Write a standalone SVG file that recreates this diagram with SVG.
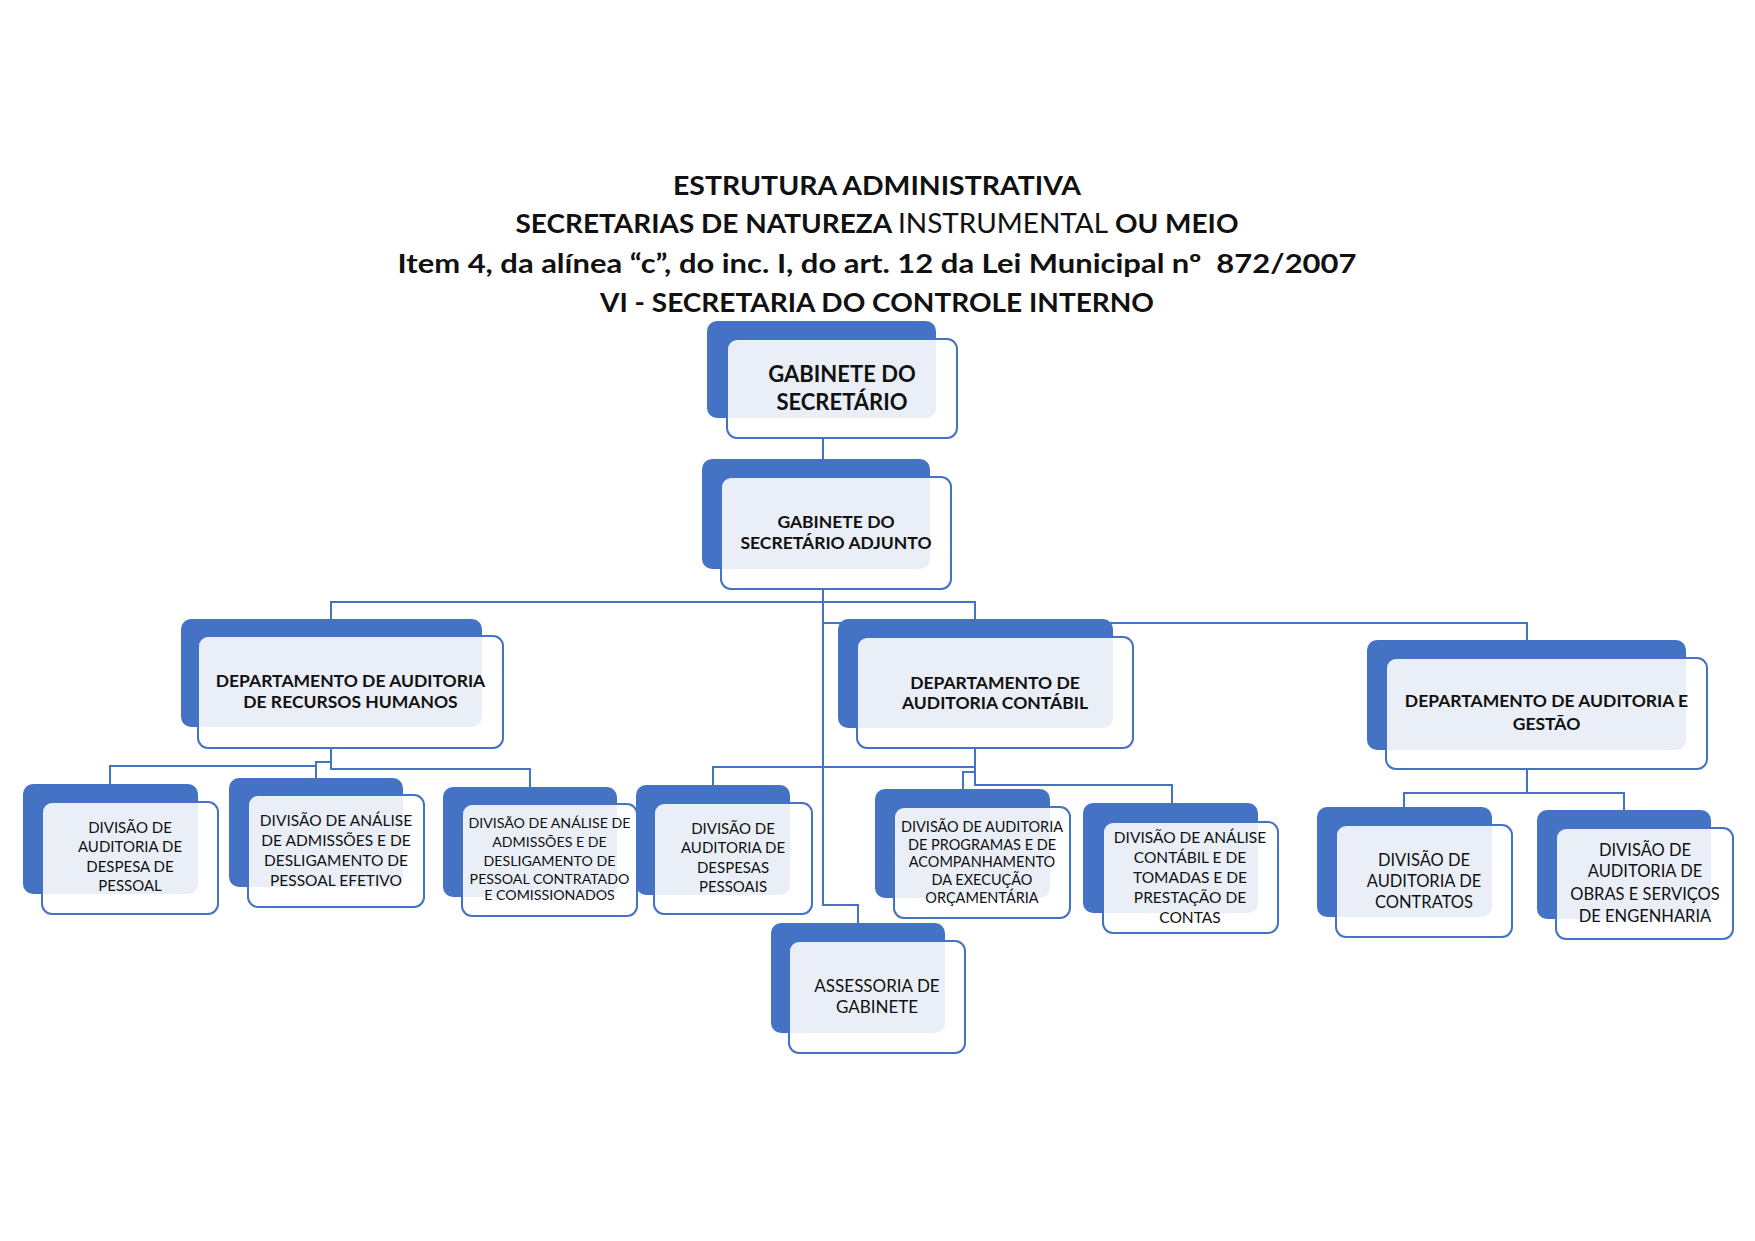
<svg xmlns="http://www.w3.org/2000/svg" width="1755" height="1241" viewBox="0 0 1755 1241">
<style>
text{font-family:Lato,"Open Sans","Liberation Sans",sans-serif;fill:#111;text-anchor:middle}
.t{font-size:26px;font-weight:bold}
.n{font-weight:normal}
.b{fill:#4472C4}
.fw{fill:#fff}
.l{fill:#EAEFF7}
.fs{fill:none;stroke:#4472C4;stroke-width:2}
.c{fill:none;stroke:#4472C4;stroke-width:2}
.bold{font-weight:bold}
.d{font-weight:bold;font-size:17.5px}
</style>
<rect width="1755" height="1241" fill="#fff"/>
<g id="title">
<text class="t" x="877" y="195" textLength="408" lengthAdjust="spacingAndGlyphs">ESTRUTURA ADMINISTRATIVA</text>
<text class="t" x="877" y="233" textLength="723" lengthAdjust="spacingAndGlyphs">SECRETARIAS DE NATUREZA <tspan class="n">INSTRUMENTAL</tspan> OU MEIO</text>
<text class="t" x="877" y="273" textLength="959" lengthAdjust="spacingAndGlyphs">Item 4, da alínea “c”, do inc. I, do art. 12 da Lei Municipal nº &#160;872/2007</text>
<text class="t" x="877" y="312" textLength="554" lengthAdjust="spacingAndGlyphs">VI - SECRETARIA DO CONTROLE INTERNO</text>
</g>
<g id="connectors">
<path class="c" d="M823,438 V477"/>
<path class="c" d="M823,589 V905 H858 V923"/>
<path class="c" d="M823,602 H331 V619"/>
<path class="c" d="M823,602 H975 V619"/>
<path class="c" d="M823,623 H1527 V640"/>
<path class="c" d="M331,748 V769 H530 V787"/>
<path class="c" d="M331,762 H316 V778"/>
<path class="c" d="M316,766 H110 V784"/>
<path class="c" d="M975,748 V785 H1172 V803"/>
<path class="c" d="M975,772 H963 V789"/>
<path class="c" d="M975,767 H713 V785"/>
<path class="c" d="M1527,769 V793 H1404 V807"/>
<path class="c" d="M1527,793 H1624 V810"/>
</g>
<g id="n1">
<rect class="b" x="707" y="321" width="229" height="97" rx="10"/>
<rect class="fw" x="727" y="339" width="230" height="99" rx="10"/>
<path class="l" d="M737,339 H936 V408 A10,10 0 0 1 926,418 H727 V349 A10,10 0 0 1 737,339 Z"/>
<rect class="fs" x="727" y="339" width="230" height="99" rx="10"/>
<text class="bold" font-size="22" x="842" y="382">GABINETE DO</text>
<text class="bold" font-size="22" x="842" y="410">SECRETÁRIO</text>
</g>
<g id="n2">
<rect class="b" x="702" y="459" width="228" height="110" rx="10"/>
<rect class="fw" x="721" y="477" width="230" height="112" rx="10"/>
<path class="l" d="M731,477 H930 V559 A10,10 0 0 1 920,569 H721 V487 A10,10 0 0 1 731,477 Z"/>
<rect class="fs" x="721" y="477" width="230" height="112" rx="10"/>
<text class="bold" font-size="17.5" x="836" y="528">GABINETE DO</text>
<text class="bold" font-size="17.5" x="836" y="549">SECRETÁRIO ADJUNTO</text>
</g>
<g id="n3">
<rect class="b" x="181" y="619" width="301" height="108" rx="10"/>
<rect class="fw" x="198" y="636" width="305" height="112" rx="10"/>
<path class="l" d="M208,636 H482 V717 A10,10 0 0 1 472,727 H198 V646 A10,10 0 0 1 208,636 Z"/>
<rect class="fs" x="198" y="636" width="305" height="112" rx="10"/>
<text class="d" x="350.5" y="687">DEPARTAMENTO DE AUDITORIA</text>
<text class="d" x="350.5" y="708">DE RECURSOS HUMANOS</text>
</g>
<g id="n4">
<rect class="b" x="838" y="619" width="275" height="109" rx="10"/>
<rect class="fw" x="857" y="637" width="276" height="111" rx="10"/>
<path class="l" d="M867,637 H1113 V718 A10,10 0 0 1 1103,728 H857 V647 A10,10 0 0 1 867,637 Z"/>
<rect class="fs" x="857" y="637" width="276" height="111" rx="10"/>
<text class="d" x="995" y="689">DEPARTAMENTO DE</text>
<text class="d" x="995" y="709">AUDITORIA CONTÁBIL</text>
</g>
<g id="n5">
<rect class="b" x="1367" y="640" width="319" height="110" rx="10"/>
<rect class="fw" x="1386" y="658" width="321" height="111" rx="10"/>
<path class="l" d="M1396,658 H1686 V740 A10,10 0 0 1 1676,750 H1386 V668 A10,10 0 0 1 1396,658 Z"/>
<rect class="fs" x="1386" y="658" width="321" height="111" rx="10"/>
<text class="d" x="1546.5" y="707">DEPARTAMENTO DE AUDITORIA E</text>
<text class="d" x="1546.5" y="730">GESTÃO</text>
</g>
<g id="n6">
<rect class="b" x="23" y="784" width="175" height="110" rx="10"/>
<rect class="fw" x="42" y="802" width="176" height="112" rx="10"/>
<path class="l" d="M52,802 H198 V884 A10,10 0 0 1 188,894 H42 V812 A10,10 0 0 1 52,802 Z"/>
<rect class="fs" x="42" y="802" width="176" height="112" rx="10"/>
<text font-size="15" x="130" y="833">DIVISÃO DE</text>
<text font-size="15" x="130" y="852">AUDITORIA DE</text>
<text font-size="15" x="130" y="872">DESPESA DE</text>
<text font-size="15" x="130" y="891">PESSOAL</text>
</g>
<g id="n7">
<rect class="b" x="229" y="778" width="174" height="109" rx="10"/>
<rect class="fw" x="248" y="795" width="176" height="112" rx="10"/>
<path class="l" d="M258,795 H403 V877 A10,10 0 0 1 393,887 H248 V805 A10,10 0 0 1 258,795 Z"/>
<rect class="fs" x="248" y="795" width="176" height="112" rx="10"/>
<text font-size="15.5" x="336" y="826">DIVISÃO DE ANÁLISE</text>
<text font-size="15.5" x="336" y="846">DE ADMISSÕES E DE</text>
<text font-size="15.5" x="336" y="866">DESLIGAMENTO DE</text>
<text font-size="15.5" x="336" y="886">PESSOAL EFETIVO</text>
</g>
<g id="n8">
<rect class="b" x="443" y="787" width="174" height="110" rx="10"/>
<rect class="fw" x="462" y="804" width="175" height="112" rx="10"/>
<path class="l" d="M472,804 H617 V887 A10,10 0 0 1 607,897 H462 V814 A10,10 0 0 1 472,804 Z"/>
<rect class="fs" x="462" y="804" width="175" height="112" rx="10"/>
<text font-size="14.2" x="549.5" y="828">DIVISÃO DE ANÁLISE DE</text>
<text font-size="14.2" x="549.5" y="847">ADMISSÕES E DE</text>
<text font-size="14.2" x="549.5" y="866">DESLIGAMENTO DE</text>
<text font-size="14.2" x="549.5" y="884">PESSOAL CONTRATADO</text>
<text font-size="14.2" x="549.5" y="900">E COMISSIONADOS</text>
</g>
<g id="n9">
<rect class="b" x="636" y="785" width="154" height="110" rx="10"/>
<rect class="fw" x="654" y="803" width="158" height="111" rx="10"/>
<path class="l" d="M664,803 H790 V885 A10,10 0 0 1 780,895 H654 V813 A10,10 0 0 1 664,803 Z"/>
<rect class="fs" x="654" y="803" width="158" height="111" rx="10"/>
<text font-size="15" x="733" y="834">DIVISÃO DE</text>
<text font-size="15" x="733" y="853">AUDITORIA DE</text>
<text font-size="15" x="733" y="873">DESPESAS</text>
<text font-size="15" x="733" y="892">PESSOAIS</text>
</g>
<g id="n10">
<rect class="b" x="771" y="923" width="174" height="110" rx="10"/>
<rect class="fw" x="789" y="941" width="176" height="112" rx="10"/>
<path class="l" d="M799,941 H945 V1023 A10,10 0 0 1 935,1033 H789 V951 A10,10 0 0 1 799,941 Z"/>
<rect class="fs" x="789" y="941" width="176" height="112" rx="10"/>
<text font-size="17" x="877" y="992">ASSESSORIA DE</text>
<text font-size="17" x="877" y="1013">GABINETE</text>
</g>
<g id="n11">
<rect class="b" x="875" y="789" width="175" height="109" rx="10"/>
<rect class="fw" x="894" y="807" width="176" height="111" rx="10"/>
<path class="l" d="M904,807 H1050 V888 A10,10 0 0 1 1040,898 H894 V817 A10,10 0 0 1 904,807 Z"/>
<rect class="fs" x="894" y="807" width="176" height="111" rx="10"/>
<text font-size="14.5" x="982" y="832">DIVISÃO DE AUDITORIA</text>
<text font-size="14.5" x="982" y="850">DE PROGRAMAS E DE</text>
<text font-size="14.5" x="982" y="867">ACOMPANHAMENTO</text>
<text font-size="14.5" x="982" y="885">DA EXECUÇÃO</text>
<text font-size="14.5" x="982" y="903">ORÇAMENTÁRIA</text>
</g>
<g id="n12">
<rect class="b" x="1083" y="803" width="175" height="110" rx="10"/>
<rect class="fw" x="1103" y="822" width="175" height="111" rx="10"/>
<path class="l" d="M1113,822 H1258 V903 A10,10 0 0 1 1248,913 H1103 V832 A10,10 0 0 1 1113,822 Z"/>
<rect class="fs" x="1103" y="822" width="175" height="111" rx="10"/>
<text font-size="15.5" x="1190" y="843">DIVISÃO DE ANÁLISE</text>
<text font-size="15.5" x="1190" y="863">CONTÁBIL E DE</text>
<text font-size="15.5" x="1190" y="883">TOMADAS E DE</text>
<text font-size="15.5" x="1190" y="903">PRESTAÇÃO DE</text>
<text font-size="15.5" x="1190" y="923">CONTAS</text>
</g>
<g id="n13">
<rect class="b" x="1317" y="807" width="175" height="110" rx="10"/>
<rect class="fw" x="1336" y="825" width="176" height="112" rx="10"/>
<path class="l" d="M1346,825 H1492 V907 A10,10 0 0 1 1482,917 H1336 V835 A10,10 0 0 1 1346,825 Z"/>
<rect class="fs" x="1336" y="825" width="176" height="112" rx="10"/>
<text font-size="16.5" x="1424" y="866">DIVISÃO DE</text>
<text font-size="16.5" x="1424" y="887">AUDITORIA DE</text>
<text font-size="16.5" x="1424" y="908">CONTRATOS</text>
</g>
<g id="n14">
<rect class="b" x="1537" y="810" width="174" height="109" rx="10"/>
<rect class="fw" x="1556" y="828" width="177" height="111" rx="10"/>
<path class="l" d="M1566,828 H1711 V909 A10,10 0 0 1 1701,919 H1556 V838 A10,10 0 0 1 1566,828 Z"/>
<rect class="fs" x="1556" y="828" width="177" height="111" rx="10"/>
<text font-size="16.5" x="1645" y="856">DIVISÃO DE</text>
<text font-size="16.5" x="1645" y="877">AUDITORIA DE</text>
<text font-size="16.5" x="1645" y="900">OBRAS E SERVIÇOS</text>
<text font-size="16.5" x="1645" y="922">DE ENGENHARIA</text>
</g>
</svg>
